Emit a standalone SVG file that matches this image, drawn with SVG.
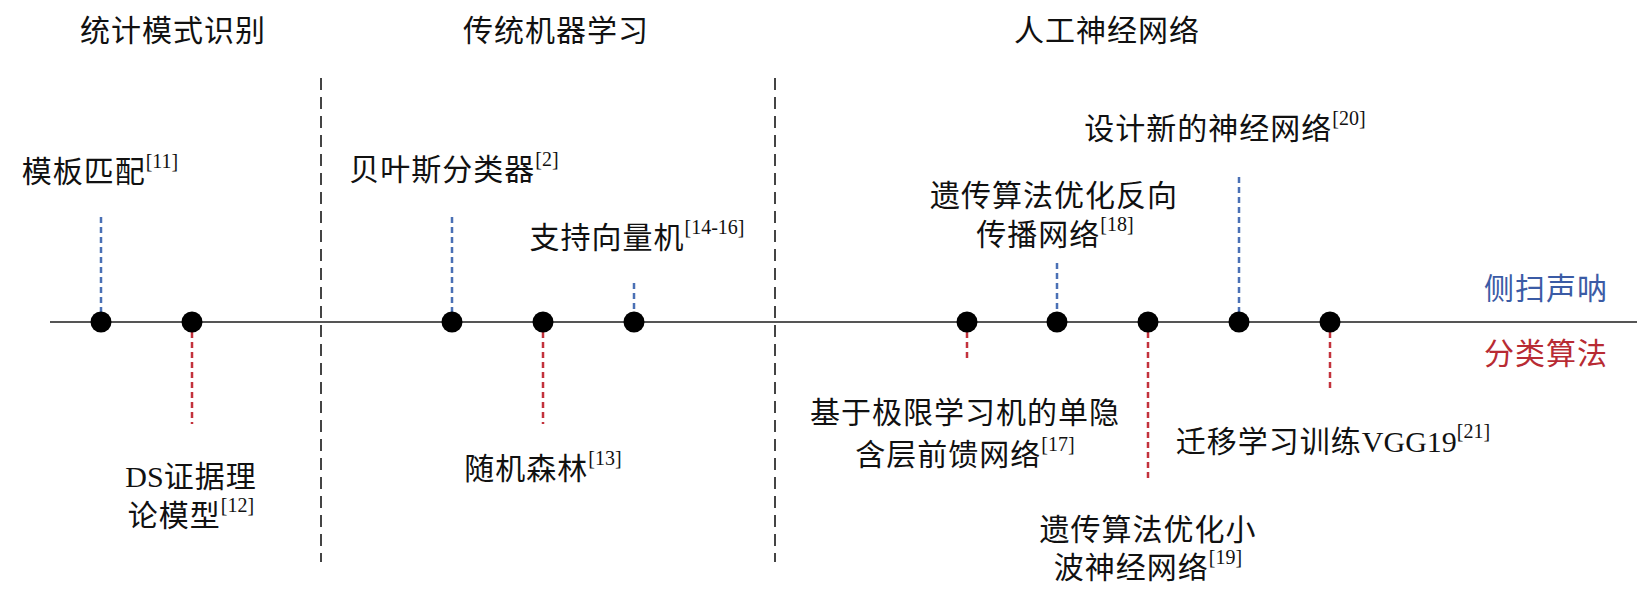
<svg xmlns="http://www.w3.org/2000/svg" width="1646" height="594" viewBox="0 0 1646 594">
<style>
text{font-family:"Noto Sans CJK SC","Liberation Sans",sans-serif;font-size:30px;fill:#111;letter-spacing:1px;text-anchor:middle}
.lat{font-family:"Liberation Serif","Noto Sans CJK SC",serif;letter-spacing:0}
.sup{font-family:"Liberation Serif",serif;font-size:20px;letter-spacing:0}
.leg{text-anchor:start}
.sep{stroke:#444;stroke-width:2;stroke-dasharray:12 7;fill:none}
.axis{stroke:#555;stroke-width:2;fill:none}
.blue{stroke:#4a70b5;stroke-width:2.5;stroke-dasharray:6 4;fill:none}
.red{stroke:#c3323c;stroke-width:2.5;stroke-dasharray:6 4;fill:none}
.dot{fill:#000}
</style>
<rect width="1646" height="594" fill="#fff"/>
<g id="headers">
<text x="173" y="41">统计模式识别</text>
<text x="556" y="41">传统机器学习</text>
<text x="1107" y="41">人工神经网络</text>
</g>
<g id="connectors">
<line class="sep" x1="321" y1="78" x2="321" y2="562"/>
<line class="sep" x1="775" y1="78" x2="775" y2="562"/>
<line class="axis" x1="50" y1="322" x2="1637" y2="322"/>
<line class="blue" x1="101" y1="217" x2="101" y2="312"/>
<line class="blue" x1="452" y1="217" x2="452" y2="312"/>
<line class="blue" x1="634" y1="283" x2="634" y2="312"/>
<line class="blue" x1="1057" y1="263" x2="1057" y2="312"/>
<line class="blue" x1="1239" y1="177" x2="1239" y2="312"/>
<line class="red" x1="192" y1="332" x2="192" y2="424"/>
<line class="red" x1="543" y1="332" x2="543" y2="424"/>
<line class="red" x1="967" y1="332" x2="967" y2="362"/>
<line class="red" x1="1148" y1="332" x2="1148" y2="478"/>
<line class="red" x1="1330" y1="332" x2="1330" y2="391"/>
</g>
<g id="n1"><circle class="dot" cx="101" cy="322" r="10.5"/><text x="100" y="182">模板匹配<tspan class="sup" dy="-14">[11]</tspan></text></g>
<g id="n2"><circle class="dot" cx="192" cy="322" r="10.5"/><text x="191" y="487"><tspan class="lat">DS</tspan>证据理</text><text x="191" y="526">论模型<tspan class="sup" dy="-14">[12]</tspan></text></g>
<g id="n3"><circle class="dot" cx="452" cy="322" r="10.5"/><text x="454" y="180">贝叶斯分类器<tspan class="sup" dy="-14">[2]</tspan></text></g>
<g id="n4"><circle class="dot" cx="543" cy="322" r="10.5"/><text x="543" y="479">随机森林<tspan class="sup" dy="-14">[13]</tspan></text></g>
<g id="n5"><circle class="dot" cx="634" cy="322" r="10.5"/><text x="637" y="248">支持向量机<tspan class="sup" dy="-14">[14-16]</tspan></text></g>
<g id="n6"><circle class="dot" cx="967" cy="322" r="10.5"/><text x="965" y="423">基于极限学习机的单隐</text><text x="965" y="465">含层前馈网络<tspan class="sup" dy="-14">[17]</tspan></text></g>
<g id="n7"><circle class="dot" cx="1057" cy="322" r="10.5"/><text x="1054" y="206">遗传算法优化反向</text><text x="1055" y="245">传播网络<tspan class="sup" dy="-14">[18]</tspan></text></g>
<g id="n8"><circle class="dot" cx="1148" cy="322" r="10.5"/><text x="1148" y="540">遗传算法优化小</text><text x="1148" y="578">波神经网络<tspan class="sup" dy="-14">[19]</tspan></text></g>
<g id="n9"><circle class="dot" cx="1239" cy="322" r="10.5"/><text x="1225" y="139">设计新的神经网络<tspan class="sup" dy="-14">[20]</tspan></text></g>
<g id="n10"><circle class="dot" cx="1330" cy="322" r="10.5"/><text x="1333" y="452">迁移学习训练<tspan class="lat">VGG19</tspan><tspan class="sup" dy="-14">[21]</tspan></text></g>
<g id="legend">
<text class="leg" x="1484" y="299" style="fill:#3b5ba5">侧扫声呐</text>
<text class="leg" x="1484" y="364" style="fill:#b82b33">分类算法</text>
</g>
</svg>
